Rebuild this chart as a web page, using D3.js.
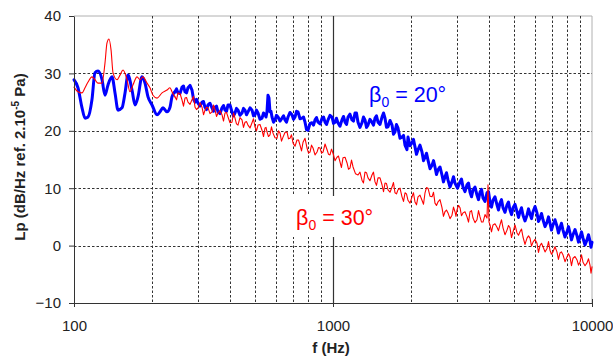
<!DOCTYPE html>
<html><head><meta charset="utf-8">
<script src="https://cdn.jsdelivr.net/npm/d3@7"></script>
<style>
body{margin:0;background:#fff}
svg{display:block}
text{font-family:"Liberation Sans",Arial,sans-serif}
</style>
</head><body>
<svg id="c" width="613" height="358"></svg>
<script>
// ---- data ----
// beta0 = 20 deg (blue): main readings
const blueFreq = [100,103.6,107.4,110.3,113.3,117.3,120.5,123.8,128.3,131.7,
135.3,140.2,144,147.9,153.2,157.4,161.6,167.5,172,176.6,
183,188,193.1,200.1,209.2,214.8,220.6,228.6,234.8,238.9,
245.5,252.1,261.2,268.3,275.5,285.5,293.3,301.2,312.1,320.5,
329.2,341.1,350.4,359.7,372.8,382.8,393.2,407.4,418.4,429.7,
445.3,457.4,469.7,486.8,499.7,513.4,532,546.4,556,561.1,
566.1,571,581.4,597.1,613.3,635.6,652.7,670.4,694.6,713.4,
732.7,759.3,779.8,800.9,829.9,852.4,875.4,907.2,931.7,956.9,
991.2,1018,1045,1083,1113,1143,1184,1216,1249,1294,
1329,1365,1414,1453,1492,1546,1588,1631,1690,1735,
1782,1847,1897,1930,1948,2018,2073,2129,2206,2266,
2327,2412,2476,2543,2635,2706,2780,2880,2958,3093,
3176,3292,3381,3472,3597,3695,3795,3932,4038,4147,
4297,4413,4533,4697,4824,4955,5134,5272,5415,5611,
5763,5919,6133,6299,6469,6705,6883,7070,7323,7521,
7727,8007,8224,8446,8753,8989,9232,9566,9824,10000];
const blueLp = [28.9,27.5,24.0,22.2,22.4,25.4,30.1,30.4,28.9,26.2,
28.0,29.4,26.6,23.6,24.0,26.6,29.7,27.1,24.5,25.9,
29.4,28.3,25.9,24.5,22.8,23.3,24.0,23.3,24.1,25.9,
26.8,26.6,27.6,26.8,27.5,27.1,25.0,24.8,25.0,24.1,
24.5,24.0,24.1,23.3,24.0,23.6,24.5,23.3,23.1,23.6,
23.1,23.6,23.3,23.6,22.8,23.1,22.2,22.8,23.3,26.2,
25.7,23.3,22.4,21.9,22.4,22.2,21.9,22.4,22.8,22.4,
23.3,22.2,21.5,20.1,21.4,21.9,21.5,22.2,21.5,21.9,
22.4,21.5,21.4,21.9,21.5,22.4,21.9,23.1,21.5,21.4,
21.9,21.0,21.5,22.2,21.5,22.4,22.2,20.7,21.0,19.8,
20.5,18.9,17.5,16.7,18.9,17.9,17.2,16.7,16.3,15.4,
14.9,14.0,13.7,13.2,12.3,12.0,11.4,11.1,10.9,11.1,
10.2,10.6,9.3,9.7,8.8,9.3,8.3,9.2,7.6,7.9,
7.1,7.4,6.6,7.1,6.2,6.6,5.9,5.9,5.3,5.3,
5.5,5.9,5.7,4.8,4.5,4.1,3.9,3.6,3.4,3.1,
2.7,2.4,2.2,1.9,1.7,1.5,1.3,1.0,0.8,0.6];
// beta0 = 20 deg (blue): noise extremes between the main readings
const blueNoiseFreq = [248.8,256.6,264.7,271.9,280.5,289.4,297.2,306.6,316.3,324.8,
335.1,345.7,355,366.2,377.8,388,400.2,412.9,424,437.4,
451.3,463.5,478.2,493.2,506.5,522.6,539.2,551.2,576.2,589.2,
605.1,624.4,644.1,661.5,682.4,703.9,723,745.9,769.5,790.3,
815.3,841.1,863.8,891.2,919.4,944.2,973.9,1004.5,1031,1064,
1098,1128,1163,1200,1232,1271,1311,1347,1389,1433,
1472,1519,1567,1609,1660,1712,1758,1814,1872,1983,
2045,2101,2167,2236,2296,2369,2444,2509,2589,2670,
2743,2830,2919,3025,3134,3233,3336,3426,3534,3646,
3745,3863,3985,4092,4221,4355,4473,4614,4760,4889,
5044,5203,5343,5512,5687,5841,6025,6215,6383,6586,
6793,6976,7195,7421,7623,7866,8115,8334,8598,8870,
9110,9398,9694,9912];
const blueNoiseLp = [27.3,26.5,27.8,26.6,27.9,25.5,25.5,24.3,25.1,23.7,
24.8,23.4,24.3,23.0,24.4,23.4,24.5,22.6,23.9,22.7,
23.9,22.8,24.0,22.6,23.6,22.0,23.1,22.4,23.4,21.5,
22.7,21.7,22.6,21.5,23.2,22.0,23.4,22.1,22.4,20.2,
21.3,21.0,22.3,21.2,22.4,21.1,22.7,21.3,22.2,20.8,
22.5,21.1,22.9,21.7,23.1,20.6,22.4,20.6,22.0,21.0,
22.6,21.1,23.1,20.6,21.8,19.4,21.1,18.7,19.2,17.4,
18.5,15.9,17.5,14.8,16.1,13.4,14.8,12.4,13.7,11.1,
12.7,10.2,12.0,10.0,11.6,9.4,10.9,8.5,10.2,8.0,
9.8,7.7,9.4,6.7,8.5,6.2,8.0,5.8,7.6,5.4,
7.2,4.9,6.6,4.3,6.4,4.7,6.8,4.2,5.6,3.3,
5.0,2.7,4.5,2.2,3.9,1.5,3.3,1.0,2.8,0.6,
2.4,0.1,1.9,-0.3];

// beta0 = 30 deg (red): main readings
const redFreq = [100,103.6,107.4,110.3,113.3,117.3,120.5,123.8,128.3,131.7,
134.1,136.5,139,141.5,146.6,150.5,154.6,160.2,164.5,169,
175.1,179.8,184.6,191.4,196.5,201.8,209.2,218.7,228.6,234.8,
238.9,245.5,252.1,261.2,268.3,275.5,285.5,293.3,301.2,312.1,
320.5,329.2,341.1,350.4,359.7,372.8,382.8,393.2,407.4,418.4,
429.7,445.3,457.4,469.7,486.8,499.7,513.4,532,546.4,556,
571,586.6,607.9,624.4,641.2,664.4,682.3,700.8,726.1,745.8,
766.1,793.8,815.3,837.3,867.7,891.2,915.3,948.5,973.6,1000,
1036,1064,1093,1133,1163,1195,1249,1294,1329,1365,
1414,1453,1492,1546,1588,1631,1690,1735,1782,1847,
1897,1948,2018,2073,2129,2206,2266,2327,2412,2476,
2543,2635,2706,2780,2880,2958,3011,3093,3176,3292,
3381,3472,3597,3695,3795,3932,3967,4002,4038,4147,
4297,4413,4533,4697,4824,4955,5134,5272,5415,5611,
5763,5919,6133,6299,6469,6705,6883,7070,7323,7521,
7727,8007,8224,8446,8753,8989,9232,9566,9824,10000];
const redLp = [27.6,26.8,26.6,27.5,28.5,29.4,28.9,28.3,28.3,31.8,
35.3,36.0,34.1,30.1,28.9,29.7,30.6,28.9,26.8,28.0,
29.4,28.9,29.4,28.3,27.5,26.2,25.7,26.6,27.1,27.5,
26.8,25.9,26.6,25.4,25.7,25.0,25.4,24.1,24.0,24.1,
23.6,24.0,23.3,23.6,23.1,22.8,23.1,22.4,21.5,22.2,
21.0,21.9,21.5,21.0,21.4,20.7,21.0,20.1,20.5,19.8,
19.3,19.6,18.7,19.6,18.9,19.8,18.7,17.9,18.4,17.5,
18.0,17.0,16.3,17.0,16.3,17.0,16.3,16.7,15.8,16.1,
15.4,14.6,15.3,14.4,13.5,13.7,12.3,11.4,12.8,11.8,
12.3,11.1,11.8,10.6,10.9,9.7,10.2,9.2,9.7,8.5,
9.2,7.9,8.5,7.6,8.5,7.9,9.2,10.0,8.5,7.4,
7.6,6.6,5.9,5.7,5.3,5.9,6.2,6.6,5.7,5.0,
5.9,4.8,4.5,5.0,4.1,4.8,10.6,4.1,3.6,3.6,
3.2,3.6,3.1,2.7,3.1,2.4,2.2,2.4,1.5,1.3,
1.3,0.6,0.4,0.0,-0.2,-0.5,-0.8,-1.1,-1.1,-1.3,
-1.6,-2.0,-2.0,-2.2,-2.5,-2.9,-2.9,-3.0,-3.4,-3.7];
// beta0 = 30 deg (red): noise extremes between the main readings
const redNoiseFreq = [248.8,256.6,264.7,271.9,280.5,289.4,297.2,306.6,316.3,324.8,
335.1,345.7,355,366.2,377.8,388,400.2,412.9,424,437.4,
451.3,463.5,478.2,493.2,506.5,522.6,539.2,551.2,563.4,578.7,
597.2,616.1,632.7,652.7,673.3,691.5,713.3,735.9,755.9,779.8,
804.5,826.2,852.4,879.4,903.2,931.8,961,986.7,1018,1050,
1078,1113,1148,1179,1222,1271,1311,1347,1389,1433,
1472,1519,1567,1609,1660,1712,1758,1814,1872,1922,
1983,2045,2101,2167,2236,2296,2369,2444,2509,2589,
2670,2743,2830,2919,2984,3052,3134,3233,3336,3426,
3534,3646,3745,3863,4092,4221,4355,4473,4614,4760,
4889,5044,5203,5343,5512,5687,5841,6025,6215,6383,
6586,6793,6976,7195,7421,7623,7866,8115,8334,8598,
8870,9110,9398,9694,9912];
const redNoiseLp = [25.4,26.5,24.3,25.8,24.6,26.0,23.7,24.9,22.8,24.1,
23.0,24.5,22.5,23.5,21.7,23.2,21.4,23.1,21.2,22.3,
20.6,21.6,20.5,22.1,20.0,21.1,19.0,20.6,19.0,20.7,
18.8,20.0,18.2,19.7,18.6,19.3,17.3,18.4,16.5,18.7,
16.1,17.5,15.8,17.1,16.1,17.7,15.9,16.8,14.8,15.6,
13.6,15.4,13.3,14.9,12.5,12.8,10.9,12.7,11.3,12.8,
10.5,11.8,9.4,10.8,9.3,11.0,9.0,10.0,7.7,9.0,
7.4,9.2,7.1,8.8,7.2,10.1,8.6,9.3,7.0,8.0,
5.1,6.2,4.7,6.7,5.1,7.0,5.2,5.9,4.1,6.1,
4.0,6.1,4.1,5.4,2.4,3.8,2.6,4.5,1.9,3.5,
1.4,3.6,1.8,2.9,0.2,1.7,-0.1,1.1,-1.2,0.4,
-1.1,0.7,-1.5,-0.2,-2.4,-1.1,-2.8,-1.4,-3.5,-1.9,
-3.4,-1.6,-3.5,-2.3,-4.8];

const yTicks = [-10,0,10,20,30,40];
const yGrid = [0,10,20,30];
const xTicks = [100,1000,10000];
const xGrid = [200,300,400,500,600,700,800,900,2000,3000,4000,5000,6000,7000,8000,9000];
const seriesNames = ["20°","30°"];

// ---- drawing ----
const svg = d3.select('#c');
const x = d3.scaleLog().domain([100,10000]).range([74,592]);
const y = d3.scaleLinear().domain([-10,40]).range([303,16]);

// frame (top / right)
svg.append('path').attr('d',`M${x(100)},${y(40)}H${x(10000)}V${y(-10)}`)
  .attr('fill','none').attr('stroke','#b0b0b0').attr('stroke-width',1);

// grid
svg.append('g').selectAll('line').data(yGrid).join('line')
  .attr('x1',x(100)).attr('x2',x(10000))
  .attr('y1',d=>Math.round(y(d))+0.5).attr('y2',d=>Math.round(y(d))+0.5)
  .attr('stroke','#333').attr('stroke-dasharray','2.5,2').attr('stroke-width',1);
svg.append('g').selectAll('line').data(xGrid).join('line')
  .attr('x1',d=>Math.round(x(d))+0.5).attr('x2',d=>Math.round(x(d))+0.5)
  .attr('y1',y(40)).attr('y2',y(-10))
  .attr('stroke','#333').attr('stroke-dasharray','2.5,2').attr('stroke-width',1);
svg.append('line')
  .attr('x1',Math.round(x(1000))+0.5).attr('x2',Math.round(x(1000))+0.5)
  .attr('y1',y(40)).attr('y2',y(-10)).attr('stroke','#333').attr('stroke-width',1.2);

// label boxes
svg.append('rect').attr('x',362).attr('y',76).attr('width',100).attr('height',34).attr('fill','#fff');
svg.append('rect').attr('x',289).attr('y',196).attr('width',94).attr('height',41).attr('fill','#fff');

// data: smooth low-frequency oscillations, noisy (linear) spectrum above ~245 Hz
const merge = (f1,v1,f2,v2) => f1.map((f,i)=>[f,v1[i]]).concat(f2.map((f,i)=>[f,v2[i]])).sort((a,b)=>a[0]-b[0]);
const smooth = d3.line().x(d=>x(d[0])).y(d=>y(d[1])).curve(d3.curveMonotoneX);
const rough = d3.line().x(d=>x(d[0])).y(d=>y(d[1]));
function drawSeries(pts, color, w){
  const g = svg.append('g').attr('fill','none').attr('stroke',color)
    .attr('stroke-width',w).attr('stroke-linejoin','round').attr('stroke-linecap','round');
  g.append('path').attr('d', smooth(pts.filter(d=>d[0]<=246)));
  g.append('path').attr('d', rough(pts.filter(d=>d[0]>=245)));
}
drawSeries(merge(blueFreq, blueLp, blueNoiseFreq, blueNoiseLp), '#0000ff', 3);
drawSeries(merge(redFreq, redLp, redNoiseFreq, redNoiseLp), '#ff0000', 1.1);

// axes
const ya = svg.append('g').attr('transform',`translate(${x(100)},0)`)
  .call(d3.axisLeft(y).tickValues(yTicks).tickSize(5).tickSizeOuter(0).tickPadding(8));
ya.select('.domain').attr('stroke','#333');
ya.selectAll('.tick line').attr('stroke','#333');
ya.selectAll('text').attr('font-size',15).attr('fill','#222')
  .attr('font-family','"Liberation Sans",Arial,sans-serif');

const xa = svg.append('g').attr('transform',`translate(0,${y(-10)})`)
  .call(d3.axisBottom(x).tickValues(xTicks).tickFormat(d3.format('d')).tickSize(4).tickSizeOuter(0).tickPadding(13));
xa.select('.domain').attr('stroke','#333');
xa.selectAll('.tick line').attr('stroke','#333').attr('y1',-4);
xa.selectAll('text').attr('font-size',15).attr('fill','#222')
  .attr('font-family','"Liberation Sans",Arial,sans-serif');

// axis titles
svg.append('text').attr('x',331).attr('y',353).attr('text-anchor','middle')
  .attr('font-size',15).attr('font-weight','bold').attr('fill','#222').text('f (Hz)');
const yt = svg.append('text').attr('transform','translate(25,157) rotate(-90)')
  .attr('text-anchor','middle').attr('font-size',15).attr('font-weight','bold').attr('fill','#222');
yt.append('tspan').text('Lp (dB/Hz ref. 2.10');
yt.append('tspan').attr('dy',-6).attr('font-size',10).text('-5');
yt.append('tspan').attr('dy',6).text(' Pa)');

// series labels
function label(xp, yp, color, name){
  const t = svg.append('text').attr('x',xp).attr('y',yp).attr('font-size',21.5).attr('fill',color);
  t.append('tspan').text('β');
  t.append('tspan').attr('dy',5).attr('font-size',14).text('0');
  t.append('tspan').attr('dy',-5).text(' = ' + name);
}
label(369, 102, '#0000ff', seriesNames[0]);
label(296, 225, '#ff0000', seriesNames[1]);
</script>
</body></html>
